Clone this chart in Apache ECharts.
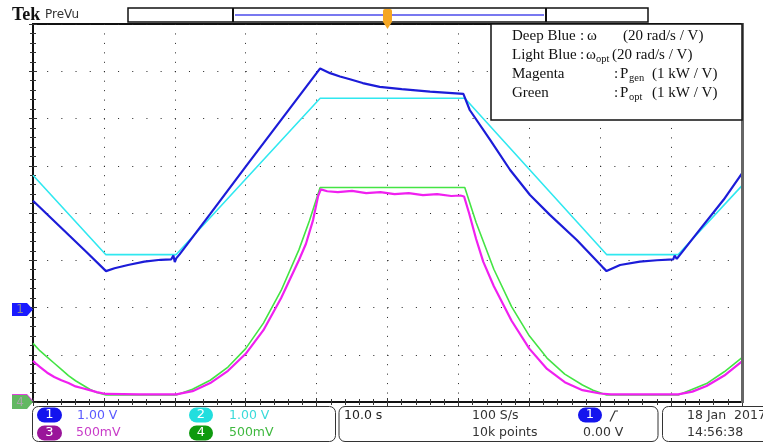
<!DOCTYPE html>
<html>
<head>
<meta charset="utf-8">
<script src="https://cdn.jsdelivr.net/npm/echarts@6/dist/echarts.min.js"></script>
<style>
  html, body { margin: 0; padding: 0; background: #fff; }
  #main { width: 763px; height: 446px; }
</style>
</head>
<body>
<div id="main"></div>
<script>
// 时间轴 0..100 s (10 s/div)，纵轴按格数 0..8 读出
let omegaT = [0, 2.5, 5, 7.5, 10.3, 11.5, 13.4, 15.7, 18, 19.5, 19.8, 20.0, 20.2, 20.7, 25, 30, 35, 40.5, 41.9, 43.3, 44.7, 46.5, 48.9, 52, 56, 60.7, 61.6, 64.5, 67.3, 70.1, 72.9, 76.7, 80.3, 80.9, 82.8, 85.6, 88, 90.3, 90.5, 90.8, 94.1, 97.4, 100];
let omegaV = [4.26, 3.90, 3.54, 3.18, 2.77, 2.83, 2.90, 2.97, 3.01, 3.02, 3.10, 2.96, 3.04, 3.13, 3.98, 4.98, 5.97, 7.06, 6.96, 6.89, 6.83, 6.75, 6.67, 6.62, 6.57, 6.52, 6.18, 5.54, 4.91, 4.38, 3.96, 3.43, 2.86, 2.77, 2.90, 2.97, 3.00, 3.02, 3.10, 3.03, 3.66, 4.28, 4.84];

let omegaOptT = [0, 10.25, 20.2, 40.5, 60.9, 80.9, 91.0, 100];
let omegaOptV = [4.80, 3.12, 3.12, 6.43, 6.43, 3.12, 3.12, 4.58];

let pOptT = [0, 1, 2, 3, 4, 5, 6, 7, 8, 9, 10.3, 20.2, 22.5, 25, 27.5, 30, 32.5, 35, 37.5, 39, 40.5, 60.9, 62.5, 65, 67.5, 70, 72.5, 75, 77.5, 79, 80.9, 91.0, 92.5, 95, 97.5, 100];
let pOptV = [1.24, 1.08, 0.95, 0.82, 0.69, 0.56, 0.45, 0.36, 0.27, 0.20, 0.15, 0.15, 0.27, 0.46, 0.74, 1.13, 1.67, 2.36, 3.22, 3.84, 4.54, 4.54, 3.80, 2.81, 2.02, 1.40, 0.93, 0.59, 0.36, 0.25, 0.15, 0.15, 0.24, 0.39, 0.64, 0.94];

let pGenT = [0, 0.5, 1, 2, 3, 4, 5, 6, 7, 8, 9, 10.3, 15, 20.2, 22.5, 25, 27.5, 30, 32.5, 35, 37.5, 38.5, 39.5, 40.2, 40.6, 41.5, 43, 45, 47, 49, 51, 53, 55, 57, 59, 60.3, 60.8, 61.5, 62.5, 63.5, 65, 67.5, 70, 72.5, 75, 77.5, 80, 81.5, 91.0, 93, 95, 97.5, 100];
let pGenV = [0.87, 0.80, 0.74, 0.62, 0.53, 0.46, 0.40, 0.33, 0.29, 0.25, 0.21, 0.17, 0.16, 0.16, 0.23, 0.40, 0.66, 1.02, 1.52, 2.20, 3.00, 3.35, 3.85, 4.35, 4.50, 4.46, 4.44, 4.47, 4.42, 4.44, 4.40, 4.42, 4.38, 4.40, 4.36, 4.37, 4.35, 4.00, 3.45, 2.97, 2.45, 1.72, 1.13, 0.70, 0.42, 0.25, 0.18, 0.16, 0.16, 0.22, 0.34, 0.56, 0.86];

function zip(t, v) {
  return t.map((x, i) => [x, v[i]]);
}

const SANS = '"DejaVu Sans", sans-serif';
const SERIF = '"Liberation Serif", serif';
const LEG = '15px ' + SERIF;
const SUB = '10.5px ' + SERIF;

function txt(x, y, s, color, font, align) {
  return {
    type: 'text', x: x, y: y, z: 20,
    style: { text: s, fill: color, font: font, align: align || 'left', verticalAlign: 'middle' }
  };
}

function pill(x, y, w, color, label) {
  return [
    { type: 'rect', z: 20, shape: { x: x, y: y, width: w, height: 15, r: 7.5 }, style: { fill: color } },
    txt(x + w / 2, y + 7.5, label, '#fff', '13px ' + SANS, 'center')
  ];
}

let tickStyle = { color: '#333', width: 1 };

function xAx(pos, grid) {
  return {
    type: 'value', position: pos, min: 0, max: 100, interval: 10,
    axisLine: { show: false }, axisLabel: { show: false },
    axisTick: { show: true, inside: true, length: 4, lineStyle: tickStyle },
    minorTick: { show: true, splitNumber: 5, length: 3, lineStyle: tickStyle },
    splitLine: { show: grid, lineStyle: { color: '#222', width: 1, type: [1, 8.45] } }
  };
}

function yAx(pos, grid) {
  return {
    type: 'value', position: pos, min: 0, max: 8, interval: 1,
    axisLine: { show: false }, axisLabel: { show: false },
    axisTick: { show: true, inside: true, length: 4, lineStyle: tickStyle },
    minorTick: { show: true, splitNumber: 5, length: 3, lineStyle: tickStyle },
    splitLine: { show: grid, lineStyle: { color: '#222', width: 1, type: [1, 13.18] } }
  };
}

let graphics = [
  // 顶部 Tek PreVu
  txt(12, 15, 'Tek', '#111', 'bold 18px ' + SERIF),
  txt(45, 15, 'PreVu', '#333', '12px ' + SANS),
  { type: 'rect', z: 20, shape: { x: 128, y: 8, width: 520, height: 14 }, style: { fill: '#fff', stroke: '#111', lineWidth: 1.5 } },
  { type: 'line', z: 21, shape: { x1: 235, y1: 15, x2: 544, y2: 15 }, style: { stroke: '#7878f0', lineWidth: 2 } },
  { type: 'line', z: 21, shape: { x1: 233, y1: 8, x2: 233, y2: 22 }, style: { stroke: '#111', lineWidth: 2 } },
  { type: 'line', z: 21, shape: { x1: 546, y1: 8, x2: 546, y2: 22 }, style: { stroke: '#111', lineWidth: 2 } },
  { type: 'rect', z: 22, shape: { x: 383, y: 9, width: 9, height: 13, r: 2 }, style: { fill: '#f5a623' } },
  { type: 'polygon', z: 22, shape: { points: [[382.5, 21], [392.5, 21], [387.5, 29]] }, style: { fill: '#f5a623' } },
  txt(387.5, 15.5, 'T', '#fff', 'bold 9px ' + SANS, 'center'),

  // 通道标记
  { type: 'polygon', z: 20, shape: { points: [[12, 303], [27, 303], [33, 309.5], [27, 316], [12, 316]] }, style: { fill: '#1a1aff' } },
  txt(20, 310, '1', '#8a8a9a', '12px ' + SANS, 'center'),
  { type: 'polygon', z: 19, shape: { points: [[12, 394], [27, 394], [33, 400.5], [27, 407], [12, 407]] }, style: { fill: '#e040e0' } },
  { type: 'polygon', z: 20, shape: { points: [[12, 395], [27, 395], [33, 402], [27, 409], [12, 409]] }, style: { fill: '#62b862' } },
  txt(20, 402.5, '4', '#a8a8a8', '12px ' + SANS, 'center'),

  // 右侧边框
  { type: 'line', z: 20, shape: { x1: 742.5, y1: 23, x2: 742.5, y2: 403 }, style: { stroke: '#666', lineWidth: 3 } },

  // 图例框
  { type: 'rect', z: 20, shape: { x: 491, y: 24, width: 251, height: 96 }, style: { fill: '#fff', stroke: '#111', lineWidth: 1.5 } },
  txt(512, 36, 'Deep Blue', '#111', LEG),
  txt(580, 36, ':', '#111', LEG),
  txt(587, 36, 'ω', '#111', LEG),
  txt(623, 36, '(20 rad/s / V)', '#111', LEG),
  txt(512, 55, 'Light Blue', '#111', LEG),
  txt(580, 55, ':', '#111', LEG),
  txt(586, 55, 'ω', '#111', LEG),
  txt(596, 59, 'opt', '#111', SUB),
  txt(612, 55, '(20 rad/s / V)', '#111', LEG),
  txt(512, 74, 'Magenta', '#111', LEG),
  txt(614, 74, ':', '#111', LEG),
  txt(620, 74, 'P', '#111', LEG),
  txt(629, 78, 'gen', '#111', SUB),
  txt(652, 74, '(1 kW / V)', '#111', LEG),
  txt(512, 93, 'Green', '#111', LEG),
  txt(614, 93, ':', '#111', LEG),
  txt(620, 93, 'P', '#111', LEG),
  txt(629, 97, 'opt', '#111', SUB),
  txt(652, 93, '(1 kW / V)', '#111', LEG),

  // 底部状态栏
  { type: 'rect', z: 20, shape: { x: 32.5, y: 406.5, width: 303, height: 35, r: 6 }, style: { fill: '#fff', stroke: '#333', lineWidth: 1 } },
  { type: 'rect', z: 20, shape: { x: 339, y: 406.5, width: 319, height: 35, r: 6 }, style: { fill: '#fff', stroke: '#333', lineWidth: 1 } },
  { type: 'rect', z: 20, shape: { x: 662.5, y: 406.5, width: 120, height: 35, r: 6 }, style: { fill: '#fff', stroke: '#333', lineWidth: 1 } },
  ...pill(37, 407.5, 25, '#1414ee', '1'),
  txt(77, 415.5, '1.00 V', '#5a5aff', '12.5px ' + SANS),
  ...pill(189, 407.5, 24, '#22dede', '2'),
  txt(229, 415.5, '1.00 V', '#3adada', '12.5px ' + SANS),
  ...pill(37, 425.5, 25, '#9a149a', '3'),
  txt(76, 433, '500mV', '#c83cc8', '12.5px ' + SANS),
  ...pill(189, 425.5, 24, '#0e9a0e', '4'),
  txt(229, 433, '500mV', '#3fb83f', '12.5px ' + SANS),
  txt(344, 415.5, '10.0 s', '#222', '12.5px ' + SANS),
  txt(472, 415.5, '100 S/s', '#333', '12.5px ' + SANS),
  txt(472, 433, '10k points', '#333', '12.5px ' + SANS),
  ...pill(578, 407.5, 24, '#1414ee', '1'),
  { type: 'polyline', z: 20, shape: { points: [[610, 421.5], [615, 411], [618, 411]] }, style: { stroke: '#333', lineWidth: 1.2, fill: null } },
  txt(583, 433, '0.00 V', '#333', '12.5px ' + SANS),
  txt(687, 415.5, '18 Jan  2017', '#333', '12.5px ' + SANS),
  txt(687, 433, '14:56:38', '#333', '12.5px ' + SANS)
];

let option = {
  animation: false,
  backgroundColor: '#fff',
  grid: {
    left: 33, top: 24, width: 709, height: 378,
    show: true, borderColor: '#111', borderWidth: 2, backgroundColor: '#fff'
  },
  xAxis: [xAx('bottom', true), xAx('top', false)],
  yAxis: [yAx('left', true), yAx('right', false)],
  series: [
    {
      name: 'P_opt', type: 'line', showSymbol: false, z: 3,
      data: zip(pOptT, pOptV),
      lineStyle: { color: '#44e444', width: 1.6 }
    },
    {
      name: 'P_gen', type: 'line', showSymbol: false, z: 4,
      data: zip(pGenT, pGenV),
      lineStyle: { color: '#f020f0', width: 2.2 }
    },
    {
      name: 'ω_opt', type: 'line', showSymbol: false, z: 5,
      data: zip(omegaOptT, omegaOptV),
      lineStyle: { color: '#30e8f0', width: 1.6 }
    },
    {
      name: 'ω', type: 'line', showSymbol: false, z: 6,
      data: zip(omegaT, omegaV),
      lineStyle: { color: '#1c1cd8', width: 2.2 }
    }
  ],
  graphic: { elements: graphics }
};

let myChart = echarts.init(document.getElementById('main'));
myChart.setOption(option);
</script>
</body>
</html>
